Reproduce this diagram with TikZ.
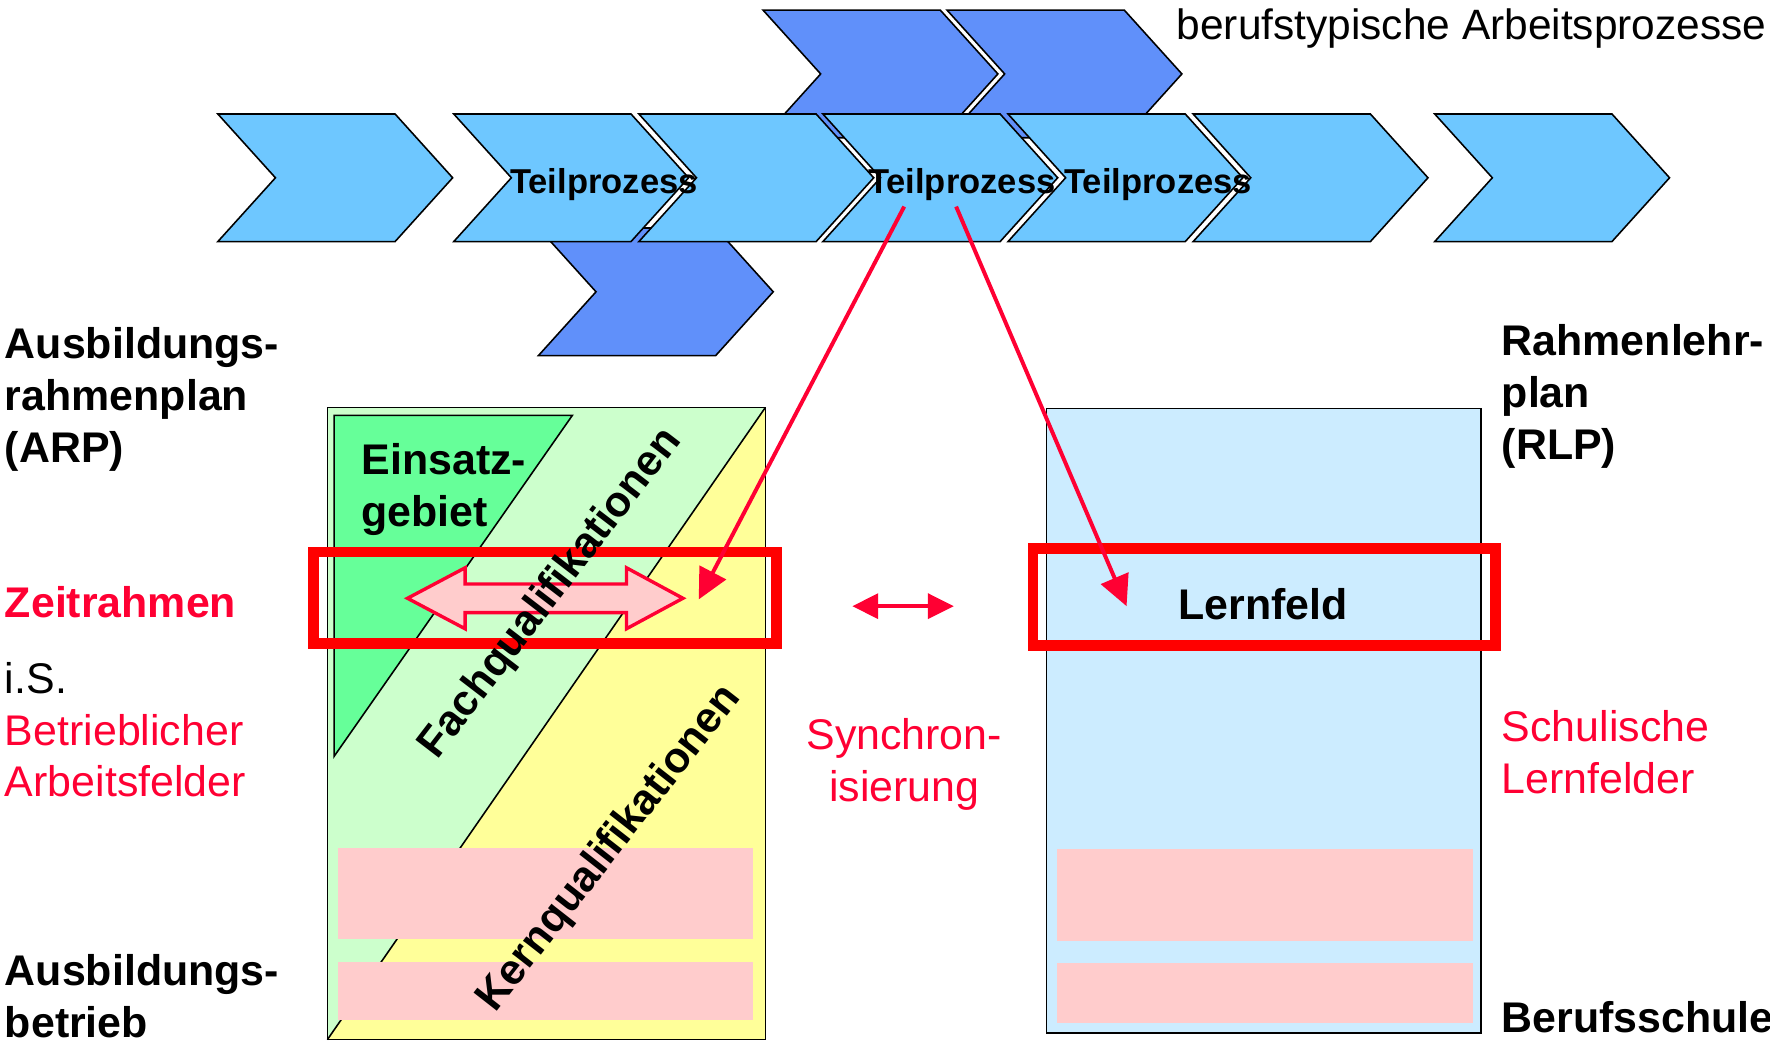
\documentclass[tikz,border=0pt]{standalone}
\usepackage{fontspec}
\setmainfont{Liberation Sans}
\usetikzlibrary{arrows.meta}
\definecolor{rowblue}{RGB}{110,199,255}
\definecolor{darkblue}{RGB}{96,144,250}
\definecolor{lgreen}{RGB}{204,255,204}
\definecolor{dgreen}{RGB}{102,255,153}
\definecolor{lyellow}{RGB}{255,255,153}
\definecolor{lpink}{RGB}{255,204,204}
\definecolor{lblue}{RGB}{204,236,255}
\definecolor{framered}{RGB}{255,0,0}
\definecolor{txtred}{RGB}{255,0,51}
\newcommand\chevshape[3]{\draw[chev,fill=#3] (#1,#2) -- ++(157,0) -- ++(51,56.5) -- ++(-51,56.5) -- ++(-157,0) -- ++(51,-56.5) -- cycle;}
\begin{document}
\begin{tikzpicture}[x=0.5pt,y=-0.5pt,
  chev/.style={draw=black,line width=0.7pt,line join=miter},
  thin/.style={draw=black,line width=0.7pt},
  big/.style={inner sep=0pt,font=\fontsize{19}{23}\selectfont,align=left},
  bigb/.style={inner sep=0pt,font=\fontsize{19}{23}\selectfont\bfseries,align=left},
  tpl/.style={inner sep=0pt,font=\fontsize{15.3}{18}\selectfont\bfseries,anchor=base},
  frame/.style={draw=framered,line width=4.75pt},
  redarrow/.style={draw=txtred,line width=1.75pt,-{Triangle[length=13.5pt,width=13pt]}},
  synarrow/.style={draw=txtred,line width=1.8pt,{Triangle[length=11.5pt,width=11pt]}-{Triangle[length=11.5pt,width=11pt]}}]
\useasboundingbox (0,0) rectangle (1568,925);

% dark blue chevrons (behind)
\chevshape{676}{9}{darkblue}
\chevshape{839}{9}{darkblue}
\chevshape{477}{202}{darkblue}
% row of chevrons
\chevshape{193}{101}{rowblue}
\chevshape{402}{101}{rowblue}
\chevshape{566}{101}{rowblue}
\chevshape{729}{101}{rowblue}
\chevshape{893}{101}{rowblue}
\chevshape{1057}{101}{rowblue}
\chevshape{1271}{101}{rowblue}

% left box (ARP)
\fill[lyellow] (290,361) rectangle (678,921);
\fill[lgreen] (290,361) -- (678,361) -- (290,921) -- cycle;
\draw[thin] (678,361) -- (290,921);
\draw[thin,fill=dgreen] (296,368) -- (507,368) -- (296,670) -- cycle;
\fill[lpink] (299,751) rectangle (667,832);
\fill[lpink] (299,852) rectangle (667,904);
\draw[thin] (290,361) rectangle (678,921);

% right box (RLP)
\draw[thin,fill=lblue] (927,362) rectangle (1312,915);
\fill[lpink] (936,752) rectangle (1305,834);
\fill[lpink] (936,853) rectangle (1305,906);

% frames
\draw[frame] (278,489) rectangle (688,570);
\draw[frame] (915,486) rectangle (1325,572);

% block double arrow
\draw[draw=txtred,fill=lpink,line width=1.5pt,line join=miter]
  (361,530) -- (412,503) -- (412,517.3) -- (555,517.3) -- (555,503) -- (605,530)
  -- (555,557) -- (555,542.7) -- (412,542.7) -- (412,557) -- cycle;

% labels in the chevrons
\node[tpl] (tp1) at (535,171) {Teilprozess};
\node[tpl] (tp2) at (852,171) {Teilprozess};
\node[tpl] (tp3) at (1026,171) {Teilprozess};

% red arrows
\coordinate (a1s) at (801,183);
\coordinate (a1e) at (619,531);
\coordinate (a2s) at (847,183);
\coordinate (a2e) at (998,537);
\draw[redarrow] (a1s) -- (a1e);
\draw[redarrow] (a2s) -- (a2e);
\coordinate (sl) at (755,537);
\coordinate (sr) at (845,537);
\draw[synarrow] (sl) -- (sr);

% texts (multi-line nodes: base = last line's baseline)
\node[inner sep=0pt,font=\fontsize{18.8}{23}\selectfont,anchor=base west] (title) at (1042,35) {berufstypische Arbeitsprozesse};
\node[bigb,anchor=base west] (arp) at (4,410) {Ausbildungs-\\rahmenplan\\(ARP)};
\node[bigb,anchor=base west,text=txtred] (zr) at (4,547) {Zeitrahmen};
\node[big,anchor=base west] (is) at (4,706) {i.S.\\\textcolor{txtred}{Betrieblicher}\\\textcolor{txtred}{Arbeitsfelder}};
\node[bigb,anchor=base west] (ab) at (4,919) {Ausbildungs-\\betrieb};
\node[bigb,anchor=base west] (rlp) at (1330,407) {Rahmenlehr-\\plan\\(RLP)};
\node[big,anchor=base west,text=txtred] (slf) at (1330,703) {Schulische\\Lernfelder};
\node[bigb,anchor=base west] (bs) at (1330,915) {Berufsschule};
\node[bigb,anchor=base west] (eg) at (320,466) {Einsatz-\\gebiet};
\node[big,align=center,anchor=base,text=txtred] (syn) at (801,710) {Synchron-\\isierung};
\node[bigb,anchor=base] (lf) at (1119,549) {Lernfeld};
\node[bigb,rotate=52.5] (fq) at (488,526) {Fachqualifikationen};
\node[bigb,rotate=52] (kq) at (540,752) {Kernqualifikationen};
\end{tikzpicture}
\end{document}
